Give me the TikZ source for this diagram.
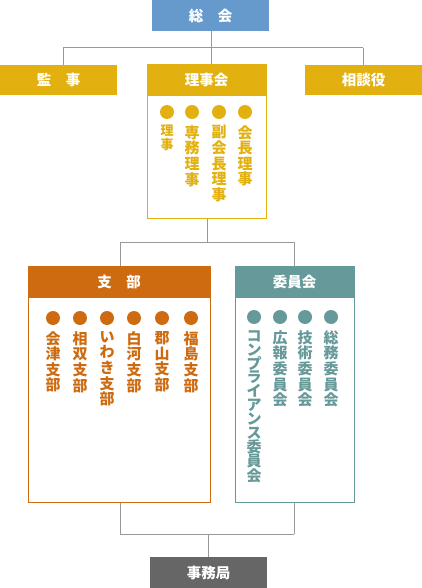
\documentclass[tikz,border=0pt]{standalone}
\usepackage{fontspec}
\setmainfont{Noto Sans CJK JP}
\usetikzlibrary{positioning}
\definecolor{sokaiblue}{HTML}{6699CC}
\definecolor{rijigold}{HTML}{E2B00F}
\definecolor{shibuorange}{HTML}{CE6B10}
\definecolor{iinteal}{HTML}{669999}
\definecolor{jimugray}{HTML}{666666}
\definecolor{linegray}{HTML}{999999}

\begin{document}
\begin{tikzpicture}[
    x=1pt, y=-1pt,
    % Define styles for the boxes
    head/.style={rectangle, fill=#1, text=white, minimum width=117pt, minimum height=31pt, inner sep=0pt, font=\fontsize{14.5}{14.5}\selectfont\bfseries},
    panel/.style={rectangle, draw=#1, line width=1pt, fill=white, inner sep=0pt, anchor=north},
    bullet/.style={circle, fill=#1, minimum size=14pt, inner sep=0pt},
    item/.style={text=#1, anchor=north, align=center, inner sep=0pt, font=\fontsize{15}{15.6}\selectfont\bfseries},
    link/.style={draw=linegray, line width=1pt}
]
\useasboundingbox (0,0) rectangle (422,588);

% ==========================================
% Top level
% ==========================================
\node[head=sokaiblue] (sokai) at (210.5,15.5) {総\hspace{1em}会};
\node[head=rijigold, minimum height=30pt] (kansa) at (58.5,80) {監\hspace{1em}事};
\node[head=rijigold, minimum height=30pt] (sodan) at (363.5,80) {相談役};

\node[panel=rijigold, minimum width=119pt, minimum height=154pt] (rijibody) at (206.5,64) {};
\node[head=rijigold, minimum width=119pt, minimum height=32pt] (riji) at (206.5,80) {理事会};

\coordinate (busL) at (63,48);
\coordinate (busR) at (363,48);
\draw[link] (busL) -- (busR);
\draw[link] (busL) -- (busL |- kansa.north);
\draw[link] (busR) -- (busR |- sodan.north);
\draw[link] (sokai.south -| 211,0) -- (riji.north -| 211,0);

% members of the board
\node[bullet=rijigold] (rd1) at (167,112) {};
\node[bullet=rijigold] (rd2) at (192,112) {};
\node[bullet=rijigold] (rd3) at (219,112) {};
\node[bullet=rijigold] (rd4) at (245,112) {};
\node[item=rijigold, font=\fontsize{13}{13.8}\selectfont\bfseries, below=6pt of rd1] (ri1) {理\\事};
\node[item=rijigold, below=6pt of rd2] (ri2) {専\\務\\理\\事};
\node[item=rijigold, below=6pt of rd3] (ri3) {副\\会\\長\\理\\事};
\node[item=rijigold, below=6pt of rd4] (ri4) {会\\長\\理\\事};

% ==========================================
% Branches and committees
% ==========================================
\node[panel=shibuorange, minimum width=182pt, minimum height=236pt] (shibubody) at (119,266) {};
\node[head=shibuorange, minimum width=182pt, minimum height=32pt] (shibu) at (119,282) {支\hspace{1em}部};
\node[panel=iinteal, minimum width=119pt, minimum height=236pt] (iinbody) at (294.5,266) {};
\node[head=iinteal, minimum width=119pt, minimum height=32pt] (iin) at (294.5,282) {委員会};

\coordinate (midL) at (120,242);
\coordinate (midR) at (294,242);
\draw[link] (midL) -- (midR);
\draw[link] (rijibody.south -| 207,0) -- (midL -| 207,0);
\draw[link] (midL) -- (midL |- shibu.north);
\draw[link] (midR) -- (midR |- iin.north);

% branch offices
\node[bullet=shibuorange] (sd1) at (53,318) {};
\node[bullet=shibuorange] (sd2) at (80,318) {};
\node[bullet=shibuorange] (sd3) at (107,318) {};
\node[bullet=shibuorange] (sd4) at (134,318) {};
\node[bullet=shibuorange] (sd5) at (162,318) {};
\node[bullet=shibuorange] (sd6) at (191,318) {};
\node[item=shibuorange, below=6pt of sd1] (si1) {会\\津\\支\\部};
\node[item=shibuorange, below=6pt of sd2] (si2) {相\\双\\支\\部};
\node[item=shibuorange, below=6pt of sd3] (si3) {い\\わ\\き\\支\\部};
\node[item=shibuorange, below=6pt of sd4] (si4) {白\\河\\支\\部};
\node[item=shibuorange, below=6pt of sd5] (si5) {郡\\山\\支\\部};
\node[item=shibuorange, below=6pt of sd6] (si6) {福\\島\\支\\部};

% committees
\node[bullet=iinteal] (cd1) at (254,317) {};
\node[bullet=iinteal] (cd2) at (280,317) {};
\node[bullet=iinteal] (cd3) at (305,317) {};
\node[bullet=iinteal] (cd4) at (331,317) {};
\node[item=iinteal, font=\fontsize{15}{13.9}\selectfont\bfseries, below=6pt of cd1] (ci1) {コ\\ン\\プ\\ラ\\イ\\ア\\ン\\ス\\委\\員\\会};
\node[item=iinteal, below=6pt of cd2] (ci2) {広\\報\\委\\員\\会};
\node[item=iinteal, below=6pt of cd3] (ci3) {技\\術\\委\\員\\会};
\node[item=iinteal, below=6pt of cd4] (ci4) {総\\務\\委\\員\\会};

% ==========================================
% Secretariat
% ==========================================
\node[head=jimugray] (jimu) at (208.5,572.5) {事務局};

\coordinate (lowL) at (120,534);
\coordinate (lowR) at (294,534);
\draw[link] (lowL) -- (lowR);
\draw[link] (lowL) -- (lowL |- shibubody.south);
\draw[link] (lowR) -- (lowR |- iinbody.south);
\draw[link] (jimu.north -| 208,0) -- (lowL -| 208,0);

\end{tikzpicture}
\end{document}
